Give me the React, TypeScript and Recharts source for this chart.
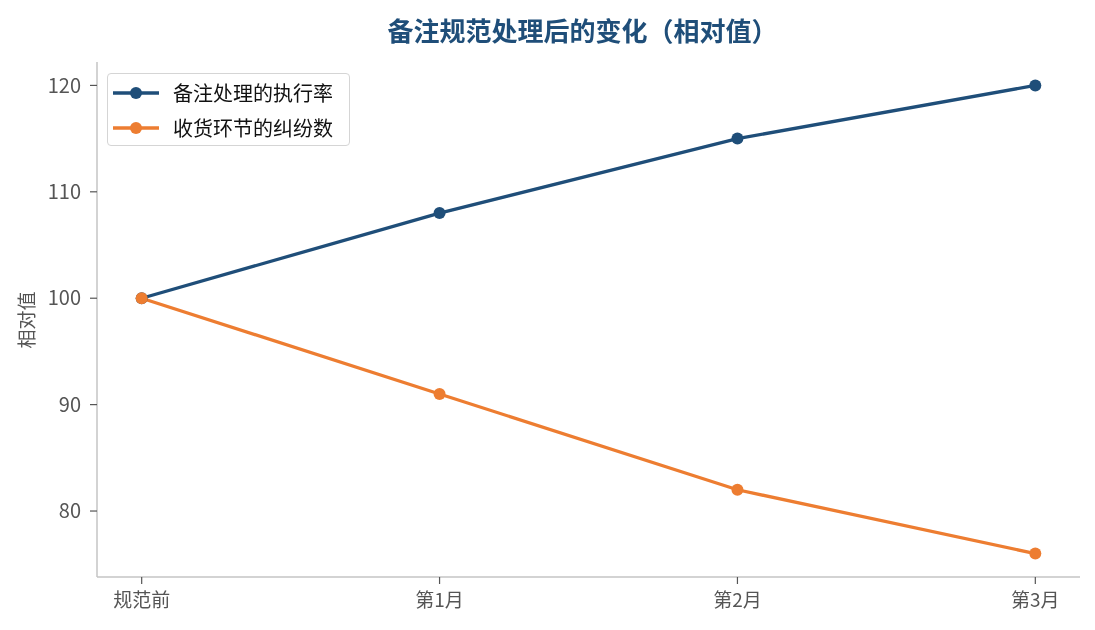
import { LineChart, Line, XAxis, YAxis, Legend } from 'recharts';

const categories = ['规范前', '第1月', '第2月', '第3月'];
const executionRate = [100, 108, 115, 120];
const disputeCount = [100, 91, 82, 76];
const yTicks = [80, 90, 100, 110, 120];

const seriesA = '备注处理的执行率';
const seriesB = '收货环节的纠纷数';

const data = categories.map((name, i) => ({
  idx: i,
  name,
  [seriesA]: executionRate[i],
  [seriesB]: disputeCount[i],
}));

const font = '"Noto Sans CJK SC", "Noto Sans", sans-serif';

function LegendBox({ payload }: any) {
  return (
    <div
      style={{
        position: 'absolute',
        left: 107,
        top: 73,
        width: 243,
        height: 73,
        boxSizing: 'border-box',
        border: '1.5px solid #d5d5d5',
        borderRadius: 4,
        background: 'rgba(255,255,255,0.9)',
        padding: '1px 0 0 5px',
        fontFamily: font,
        fontSize: 20,
        color: '#111',
      }}
    >
      {(payload || []).map((p: any) => (
        <div key={p.value} style={{ display: 'flex', alignItems: 'center', height: 35, lineHeight: '35px' }}>
          <svg width={46} height={14} style={{ marginRight: 14 }}>
            <line x1={0} y1={7} x2={46} y2={7} stroke={p.color} strokeWidth={3.5} />
            <circle cx={23} cy={7} r={6} fill={p.color} />
          </svg>
          <span>{p.value}</span>
        </div>
      ))}
    </div>
  );
}

export default function App() {
  return (
    <div style={{ position: 'fixed', left: 0, top: 0, width: 1095, height: 630, background: '#fff' }}>
      <div
        style={{
          position: 'absolute',
          left: 0,
          width: 1165,
          top: 17,
          lineHeight: '26px',
          textAlign: 'center',
          fontFamily: font,
          fontWeight: 700,
          fontSize: 26,
          color: '#1f4e79',
        }}
      >
        备注规范处理后的变化（相对值）
      </div>
      <div
        style={{
          position: 'absolute',
          left: 25,
          top: 320,
          transform: 'translate(-50%, -50%) rotate(-90deg)',
          fontFamily: font,
          fontSize: 19,
          color: '#555',
          whiteSpace: 'nowrap',
        }}
      >
        相对值
      </div>
      <LineChart
        width={1095}
        height={630}
        data={data}
        margin={{ top: 62, right: 15, bottom: 13, left: 37 }}
        style={{ fontFamily: font }}
      >
        <XAxis
          dataKey="idx"
          type="number"
          domain={[-0.15, 3.15]}
          ticks={[0, 1, 2, 3]}
          tickFormatter={(v: number) => categories[v]}
          height={40}
          axisLine={{ stroke: '#c4c4c4', strokeWidth: 1.5 }}
          tickLine={{ stroke: '#555', strokeWidth: 1.2 }}
          tickSize={7}
          tick={{ fill: '#555', fontSize: 19 }}
          tickMargin={10}
          allowDataOverflow
        />
        <YAxis
          type="number"
          domain={[73.8, 122.2]}
          ticks={yTicks}
          width={60}
          axisLine={{ stroke: '#c4c4c4', strokeWidth: 1.5 }}
          tickLine={{ stroke: '#555', strokeWidth: 1.2 }}
          tickSize={7}
          tick={{ fill: '#555', fontSize: 20 }}
          tickMargin={9}
          allowDataOverflow
        />
        <Legend
          content={<LegendBox />}
          wrapperStyle={{ position: 'absolute', left: 0, top: 0, width: 0, height: 0 }}
        />
        <Line
          dataKey={seriesA}
          stroke="#1f4e79"
          strokeWidth={3.3}
          dot={{ r: 6, fill: '#1f4e79', stroke: '#1f4e79', strokeWidth: 0 }}
          activeDot={false}
          isAnimationActive={false}
        />
        <Line
          dataKey={seriesB}
          stroke="#ed7d31"
          strokeWidth={3.3}
          dot={{ r: 6, fill: '#ed7d31', stroke: '#ed7d31', strokeWidth: 0 }}
          activeDot={false}
          isAnimationActive={false}
        />
      </LineChart>
    </div>
  );
}
